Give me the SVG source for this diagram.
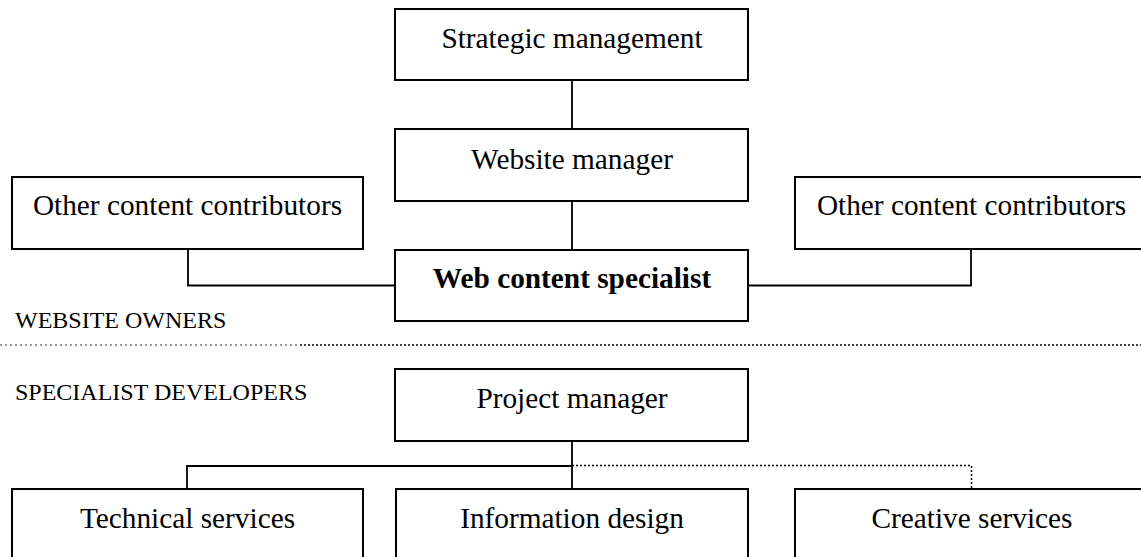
<svg xmlns="http://www.w3.org/2000/svg" width="1141" height="557" viewBox="0 0 1141 557">
<style>
.box{fill:#fff;stroke:#000;stroke-width:2}
.t{font-family:"Liberation Serif","Times New Roman",serif;font-size:29.3px;fill:#000;text-anchor:middle}
.b{font-weight:bold}
.lbl{font-family:"Liberation Serif","Times New Roman",serif;font-size:24px;fill:#000}
.c{fill:none;stroke:#000;stroke-width:1.8}
.d{fill:none;stroke:#000;stroke-width:1.5;stroke-dasharray:2 2}
</style>
<rect width="1141" height="557" fill="#fff"/>
<g id="connectors">
<path class="c" d="M572 80V129"/>
<path class="c" d="M572 201V250"/>
<path class="c" d="M188 249V285.5H395"/>
<path class="c" d="M971 249V285.5H748"/>
<path class="c" d="M572 441V489"/>
<path class="c" d="M187 489V466H572"/>
<path class="d" d="M572 465.5H971.5V489"/>
</g>
<g id="separator">
<path d="M0 345H300" fill="none" stroke="#333" stroke-width="1" stroke-dasharray="2 3"/>
<path d="M300 345H1141" fill="none" stroke="#000" stroke-width="1.6" stroke-dasharray="2 2"/>
<text class="lbl" x="15" y="328">WEBSITE OWNERS</text>
<text class="lbl" x="15" y="400">SPECIALIST DEVELOPERS</text>
</g>
<g id="strategic-management">
<rect class="box" x="395" y="9" width="353" height="71"/>
<text class="t" x="572" y="48">Strategic management</text>
</g>
<g id="website-manager">
<rect class="box" x="395" y="129" width="353" height="72"/>
<text class="t" x="572" y="169">Website manager</text>
</g>
<g id="other-contributors-left">
<rect class="box" x="12" y="177" width="351" height="72"/>
<text class="t" x="187.5" y="215">Other content contributors</text>
</g>
<g id="other-contributors-right">
<rect class="box" x="795" y="177" width="353" height="72"/>
<text class="t" x="971.5" y="215">Other content contributors</text>
</g>
<g id="web-content-specialist">
<rect class="box" x="395" y="250" width="353" height="71"/>
<text class="t b" x="572" y="288">Web content specialist</text>
</g>
<g id="project-manager">
<rect class="box" x="395" y="369" width="353" height="72"/>
<text class="t" x="572" y="408">Project manager</text>
</g>
<g id="technical-services">
<rect class="box" x="12" y="489" width="351" height="80"/>
<text class="t" x="187.5" y="528">Technical services</text>
</g>
<g id="information-design">
<rect class="box" x="396" y="489" width="352" height="80"/>
<text class="t" x="572" y="528">Information design</text>
</g>
<g id="creative-services">
<rect class="box" x="795" y="489" width="353" height="80"/>
<text class="t" x="972" y="528">Creative services</text>
</g>
</svg>
